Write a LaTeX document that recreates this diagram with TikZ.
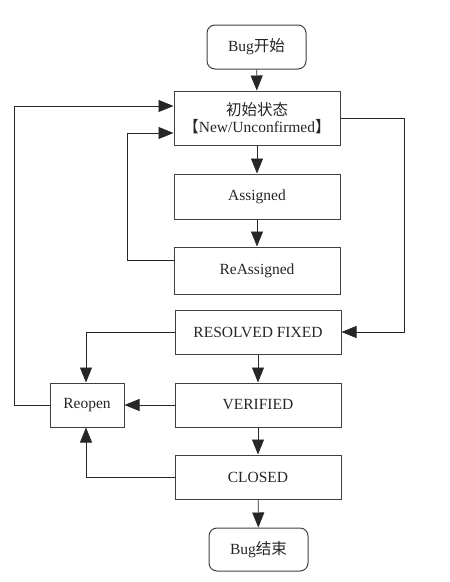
\documentclass[tikz,border=0pt]{standalone}
\usepackage{fontspec}
\setmainfont{Liberation Serif}
\newfontfamily\cjk{Noto Sans CJK SC}
\usetikzlibrary{arrows.meta}

\tikzset{every picture/.style={line width=0.75pt}}
\tikzset{
  statebox/.style={draw=black!75,line width=1pt,rectangle,minimum width=166pt,minimum height=45pt,inner sep=0.75pt,align=center,text=black!85},
  endbox/.style={statebox,rounded corners=8pt,minimum width=99pt,minimum height=44pt},
  flow/.style={black!85,-{Triangle[length=15pt,width=12pt]}}
}

\begin{document}
\begin{tikzpicture}[x=1pt,y=1pt,yscale=-1,xscale=1,font=\fontsize{15.5}{19}\selectfont]
\useasboundingbox (0,0) rectangle (450,582);

% Text Node
\node [endbox] (start) at (256.5,47) {Bug{\cjk 开始}};
% Text Node
\node [statebox,minimum height=54pt] (init) at (257,118) {{\cjk 初始状态}\\[-2pt]{\cjk 【}New/Unconfirmed{\cjk 】}};
% Text Node
\node [statebox] (assigned) at (257,196.5) {Assigned};
% Text Node
\node [statebox,minimum height=47pt] (reassigned) at (257,270.5) {ReAssigned};
% Text Node
\node [statebox,minimum height=44pt] (resolved) at (258,332) {RESOLVED FIXED};
% Text Node
\node [statebox,minimum width=74pt,minimum height=44pt] (reopen) at (87,405) {Reopen};
% Text Node
\node [statebox,minimum height=44pt] (verified) at (258,405) {VERIFIED};
% Text Node
\node [statebox,minimum height=44pt] (closed) at (258,477) {CLOSED};
% Text Node
\node [endbox,minimum height=43pt] (finish) at (258.5,549.5) {Bug{\cjk 结束}};

%Straight Lines
\draw [flow] (start) -- (init);
\draw [flow] (init) -- (assigned);
\draw [flow] (assigned) -- (reassigned);
\draw [flow] (resolved) -- (verified);
\draw [flow] (verified) -- (closed);
\draw [flow] (closed) -- (finish);
\draw [flow] (verified) -- (reopen);

%Loop Lines
\draw [flow] ([yshift=-10pt]reassigned.west) -- ++(-46,0) |- ([yshift=15pt]init.west);
\draw [flow] (reopen.west) -- ++(-35,0) |- ([yshift=-12pt]init.west);
\draw [flow] (init.east) -- ++(64,0) |- (resolved.east);
\draw [flow] (resolved.west) -| ([xshift=-1pt]reopen.north);
\draw [flow] (closed.west) -| ([xshift=-1pt]reopen.south);

\end{tikzpicture}
\end{document}
